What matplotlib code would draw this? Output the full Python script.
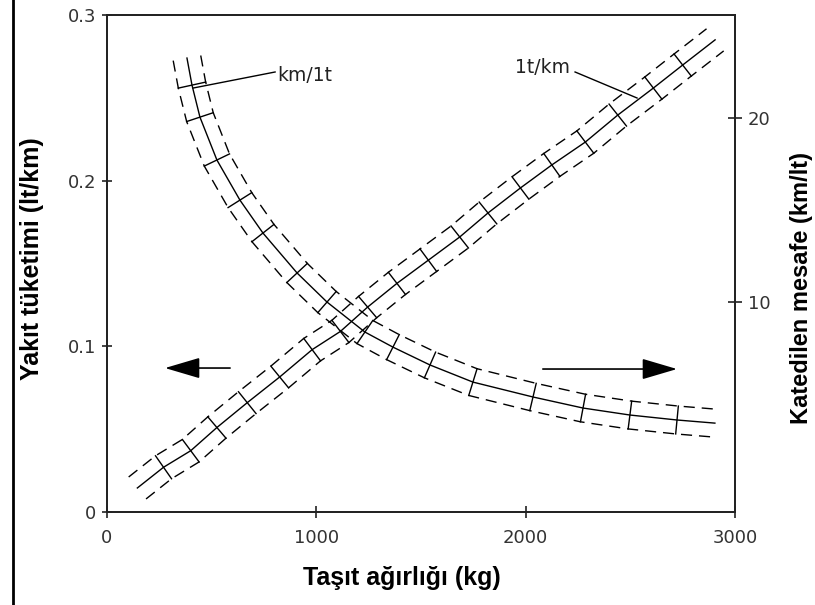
import numpy as np
import matplotlib
matplotlib.use("Agg")
import matplotlib.pyplot as plt
from matplotlib.lines import Line2D

# ---- data ----
# fuel consumption curve (left axis, lt/km) vs vehicle weight (kg)
weight_fuel = [145, 270, 400, 525, 670, 825, 980, 1115, 1245, 1385, 1535,
               1685, 1820, 1975, 2125, 2285, 2440, 2610, 2750, 2905]
fuel_lt_km = [0.0145, 0.027, 0.037, 0.051, 0.066, 0.0815, 0.098, 0.109, 0.1237,
              0.138, 0.152, 0.166, 0.1805, 0.1956, 0.2095, 0.2233, 0.2396,
              0.2559, 0.2698, 0.285]

# distance curve (right axis, km/lt) vs vehicle weight (kg)
weight_dist = [382, 406, 444, 525, 635, 745, 908, 1051, 1232, 1366, 1543,
               1748, 2035, 2274, 2498, 2723, 2904]
dist_km_lt = [23.26, 21.79, 20.05, 17.72, 15.54, 13.75, 11.58, 10.0, 8.37,
              7.55, 6.58, 5.65, 4.84, 4.24, 3.86, 3.59, 3.42]

x_ticks = [0, 1000, 2000, 3000]
x_tick_labels = ["0", "1000", "2000", "3000"]
left_ticks = [0, 0.1, 0.2, 0.3]
left_tick_labels = ["0", "0.1", "0.2", "0.3"]
right_ticks = [10, 20]
right_tick_labels = ["10", "20"]

x_label = "Taşıt ağırlığı (kg)"
left_label = "Yakıt tüketimi (lt/km)"
right_label = "Katedilen mesafe (km/lt)"
label_fuel = "1t/km"
label_dist = "km/1t"

# ---- figure ----
W, H = 815, 605
fig = plt.figure(figsize=(W / 100, H / 100), dpi=100)
fig.patch.set_facecolor("white")
ax = fig.add_axes([107 / W, 93 / H, 628 / W, 497 / H])
ax.set_xlim(0, 3000)
ax.set_ylim(0, 0.3)
ax2 = ax.twinx()
ax2.set_ylim(-1.41, 25.6)

tick_font = dict(family="DejaVu Sans", size=13)
lab_font = dict(family="Liberation Sans", weight="bold", size=18)
spine_col = "#222222"
for a in (ax, ax2):
    for s in a.spines.values():
        s.set_color(spine_col)
        s.set_linewidth(1.3)

ax.set_xticks(x_ticks)
ax.set_xticklabels(x_tick_labels, **tick_font, color="#333333")
ax.set_yticks(left_ticks)
ax.set_yticklabels(left_tick_labels, **tick_font, color="#333333")
ax.tick_params(axis="x", direction="inout", length=9, width=1.2, pad=8, color=spine_col)
ax.tick_params(axis="y", direction="inout", length=7, width=1.2, pad=4, color=spine_col)
ax2.set_yticks(right_ticks)
ax2.set_yticklabels(right_tick_labels, **tick_font, color="#333333")
ax2.tick_params(axis="y", direction="inout", length=10, width=1.2, pad=4, color=spine_col)

ax.set_xlabel(x_label, **lab_font)
ax.xaxis.set_label_coords(0.47, -0.109)
ax.set_ylabel(left_label, **lab_font)
ax.yaxis.set_label_coords(-0.100, 0.51)
ax2.set_ylabel(right_label, family="Liberation Sans", weight="bold", size=17,
               rotation=90)
ax2.yaxis.set_label_coords(1.087, 0.45)


def banded_curve(axis, xs, ys, half=14.0):
    xs = np.asarray(xs, float)
    ys = np.asarray(ys, float)
    P = axis.transData.transform(np.column_stack([xs, ys]))
    d = np.gradient(P, axis=0)
    t = d / np.linalg.norm(d, axis=1)[:, None]
    n = np.column_stack([-t[:, 1], t[:, 0]])
    inv = axis.transData.inverted()
    up = inv.transform(P + half * n)
    lo = inv.transform(P - half * n)
    axis.plot(xs, ys, color="black", lw=1.0)
    for b in (up, lo):
        axis.plot(b[:, 0], b[:, 1], color="black", lw=1.0,
                  linestyle=(0, (8, 5)))
    for i in range(1, len(xs) - 1):
        seg = inv.transform(np.array([P[i] + half * n[i], P[i] - half * n[i]]))
        axis.plot(seg[:, 0], seg[:, 1], color="black", lw=1.0)


banded_curve(ax, weight_fuel, fuel_lt_km)
banded_curve(ax2, weight_dist, dist_km_lt)

# curve labels with leader lines
ann_font = dict(family="DejaVu Sans", size=13.5, color="#222222")
ax.text(812, 0.2632, label_dist, ha="left", va="center", **ann_font)
ax.plot([803, 411], [0.2656, 0.2559], color="black", lw=1.0)
ax.text(2212, 0.2686, label_fuel, ha="right", va="center", **ann_font)
ax.plot([2236, 2532], [0.2656, 0.2499], color="black", lw=1.0)

# direction arrows
arrow_kw = dict(arrowstyle="-|>,head_length=2.2,head_width=0.65",
                color="black", lw=1.2, mutation_scale=10,
                shrinkA=0, shrinkB=0)
ax.annotate("", xy=(277, 0.0869), xytext=(588, 0.0869), arrowprops=arrow_kw)
ax.annotate("", xy=(2723, 0.0863), xytext=(2082, 0.0863), arrowprops=arrow_kw)

# left border line of the picture
fig.add_artist(Line2D([13 / W, 13 / W], [0, 1], transform=fig.transFigure,
                      color="black", lw=2))

fig.savefig("out.png", dpi=100)
